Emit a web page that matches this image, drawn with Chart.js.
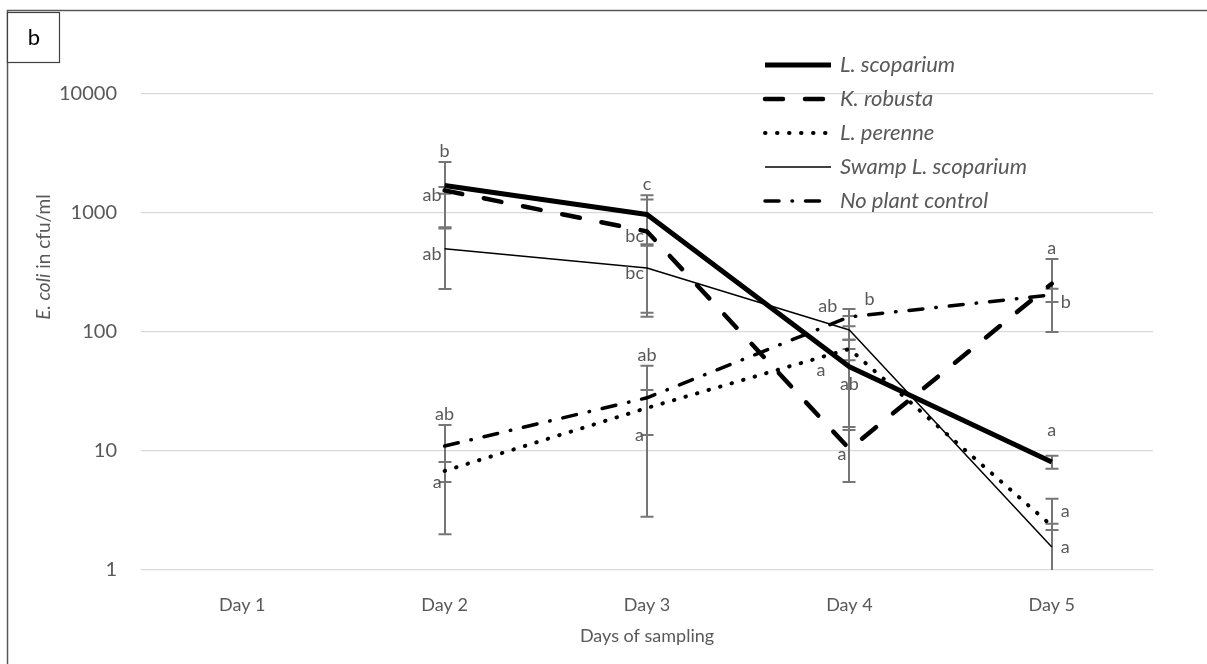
<!DOCTYPE html>
<html>
<head>
<meta charset="utf-8">
<script src="https://cdn.jsdelivr.net/npm/chart.js@4.4.1/dist/chart.umd.min.js"></script>
<style>
  html, body { margin: 0; padding: 0; background: #fff; }
  canvas { display: block; }
</style>
</head>
<body>
<canvas id="chart" width="1207" height="664"></canvas>
<script>
const days = ['Day 1', 'Day 2', 'Day 3', 'Day 4', 'Day 5'];
const yTicks = [1, 10, 100, 1000, 10000];
const seriesNames = ['L. scoparium', 'K. robusta', 'L. perenne', 'Swamp L. scoparium', 'No plant control'];

// mean counts (cfu/ml) with upper / lower error and significance letters
const scoparium = [null, 1700, 970, 51, 8.1];
const scopariumUp = [null, 980, 440, 35, 1.0];
const scopariumDown = [null, 960, 440, 36, 1.0];
const scopariumLetters = [null, 'b', 'c', 'a', 'a'];

const robusta = [null, 1550, 700, 10.4, 255];
const robustaUp = [null, 100, 600, 5.5, 155];
const robustaDown = [null, 100, 566, 4.9, 155];
const robustaLetters = [null, 'ab', 'bc', 'a', 'a'];

const perenne = [null, 6.8, 23, 72, 2.35];
const perenneUp = [null, 1.3, 9.5, 14, 0.1];
const perenneDown = [null, 1.3, 9.4, 14, 0.18];
const perenneLetters = [null, 'a', 'a', 'ab', 'a'];

const swamp = [null, 500, 345, 104, 1.56];
const swampUp = [null, 260, 200, 32, 2.4];
const swampDown = [null, 270, 200, 32, 1.0];
const swampLetters = [null, 'ab', 'bc', 'ab', 'a'];

const control = [null, 11, 28, 134, 205];
const controlUp = [null, 5.5, 24, 22, 26];
const controlDown = [null, 9, 25.2, 22, 26];
const controlLetters = [null, 'ab', 'ab', 'b', 'b'];

const FONT = 'Lato, "Open Sans", sans-serif';
const GREY = '#595959';

function series(label, data, up, down, letters, letterPos, style) {
  return Object.assign({
    label, data, errUp: up, errDown: down, letters, letterPos,
    borderColor: '#000', backgroundColor: '#000',
    pointRadius: 0, pointHoverRadius: 0, tension: 0, spanGaps: false,
    borderJoinStyle: 'round'
  }, style);
}

const datasets = [
  series(seriesNames[0], scoparium, scopariumUp, scopariumDown, scopariumLetters,
    [null, 'top', 'top', 'farLeft', 'high'],
    { borderWidth: 5, borderCapStyle: 'butt' }),
  series(seriesNames[1], robusta, robustaUp, robustaDown, robustaLetters,
    [null, 'left', 'left', 'left', 'top'],
    { borderWidth: 4.5, borderDash: [18, 22], borderCapStyle: 'round' }),
  series(seriesNames[2], perenne, perenneUp, perenneDown, perenneLetters,
    [null, 'lowLeft', 'lowLeft', 'bottom', 'upRight'],
    { borderWidth: 4, borderDash: [0.5, 11.5], borderCapStyle: 'round' }),
  series(seriesNames[3], swamp, swampUp, swampDown, swampLetters,
    [null, 'left', 'left', 'topLeft', 'right'],
    { borderWidth: 1.5, borderCapStyle: 'butt' }),
  series(seriesNames[4], control, controlUp, controlDown, controlLetters,
    [null, 'top', 'top', 'topRight', 'lowRight'],
    { borderWidth: 3.5, borderDash: [14, 13, 0.5, 13], borderCapStyle: 'round' })
];

// vertical error bars with caps, drawn underneath the lines
const errorBars = {
  id: 'errorBars',
  beforeDatasetsDraw(chart) {
    const { ctx, chartArea: area, scales: { x, y } } = chart;
    ctx.save();
    ctx.strokeStyle = '#767676';
    ctx.lineWidth = 2;
    ctx.lineCap = 'butt';
    chart.data.datasets.forEach(ds => {
      ds.data.forEach((v, i) => {
        if (v == null) return;
        const px = Math.round(x.getPixelForValue(i));
        const hi = v + ds.errUp[i];
        const lo = v - ds.errDown[i];
        const yHi = y.getPixelForValue(hi);
        const yLo = lo > 0 ? y.getPixelForValue(lo) : Infinity;
        ctx.beginPath();
        ctx.moveTo(px, Math.max(yHi, area.top));
        ctx.lineTo(px, Math.min(yLo, area.bottom));
        if (yHi >= area.top) { ctx.moveTo(px - 6.5, yHi); ctx.lineTo(px + 6.5, yHi); }
        if (yLo < area.bottom) { ctx.moveTo(px - 6.5, yLo); ctx.lineTo(px + 6.5, yLo); }
        ctx.stroke();
      });
    });
    ctx.restore();
  },
  afterDatasetsDraw(chart) {
    const { ctx, scales: { x, y } } = chart;
    ctx.save();
    ctx.fillStyle = GREY;
    ctx.font = '18px ' + FONT;
    ctx.textBaseline = 'middle';
    chart.data.datasets.forEach(ds => {
      ds.data.forEach((v, i) => {
        if (v == null || !ds.letters[i]) return;
        const px = x.getPixelForValue(i);
        const yv = y.getPixelForValue(v);
        const yHi = y.getPixelForValue(v + ds.errUp[i]);
        const yLo = y.getPixelForValue(Math.max(v - ds.errDown[i], 1));
        let tx = px, ty = yv;
        switch (ds.letterPos[i]) {
          case 'top': ctx.textAlign = 'center'; ty = yHi - 11; break;
          case 'high': ctx.textAlign = 'center'; ty = yHi - 26; break;
          case 'bottom': ctx.textAlign = 'center'; ty = yLo + 24; break;
          case 'left': ctx.textAlign = 'right'; tx = px - 3; ty = yv + 5; break;
          case 'farLeft': ctx.textAlign = 'right'; tx = px - 24; ty = yv + 3; break;
          case 'lowLeft': ctx.textAlign = 'right'; tx = px - 3; ty = yLo; break;
          case 'right': ctx.textAlign = 'left'; tx = px + 9; break;
          case 'upRight': ctx.textAlign = 'left'; tx = px + 9; ty = yv - 15; break;
          case 'lowRight': ctx.textAlign = 'left'; tx = px + 9; ty = yLo; break;
          case 'topLeft': ctx.textAlign = 'right'; tx = px - 12; ty = yHi - 10; break;
          case 'topRight': ctx.textAlign = 'left'; tx = px + 15; ty = yHi - 10; break;
        }
        ctx.fillText(ds.letters[i], tx, ty);
      });
    });
    ctx.restore();
  }
};

// legend inside the plot, axis titles, panel letter and frame
const decorations = {
  id: 'decorations',
  afterDraw(chart) {
    const { ctx, chartArea: area } = chart;
    ctx.save();

    chart.data.datasets.forEach((ds, i) => {
      const ly = 65 + i * 34;
      ctx.strokeStyle = '#000';
      ctx.lineWidth = ds.borderWidth;
      ctx.lineCap = ds.borderCapStyle;
      ctx.setLineDash(ds.borderDash || []);
      ctx.beginPath();
      ctx.moveTo(765, ly);
      ctx.lineTo(831, ly);
      ctx.stroke();
      ctx.setLineDash([]);
      ctx.fillStyle = GREY;
      ctx.font = 'italic 22px ' + FONT;
      ctx.textAlign = 'left';
      ctx.textBaseline = 'middle';
      ctx.fillText(ds.label, 840, ly);
    });

    // x axis title
    ctx.fillStyle = GREY;
    ctx.font = '18px ' + FONT;
    ctx.textAlign = 'center';
    ctx.textBaseline = 'middle';
    ctx.fillText('Days of sampling', (area.left + area.right) / 2, 636);

    // y axis title with the italic species name
    ctx.save();
    ctx.translate(44, 257);
    ctx.rotate(-Math.PI / 2);
    ctx.textAlign = 'left';
    ctx.font = 'italic 19px ' + FONT;
    const part1 = 'E. coli';
    const w1 = ctx.measureText(part1).width;
    ctx.font = '19px ' + FONT;
    const part2 = ' in cfu/ml';
    const w2 = ctx.measureText(part2).width;
    const start = -(w1 + w2) / 2;
    ctx.font = 'italic 19px ' + FONT;
    ctx.fillText(part1, start, 0);
    ctx.font = '19px ' + FONT;
    ctx.fillText(part2, start + w1, 0);
    ctx.restore();

    // frame lines
    ctx.strokeStyle = '#595959';
    ctx.lineWidth = 1.5;
    ctx.beginPath();
    ctx.moveTo(7.5, 664);
    ctx.lineTo(7.5, 10.5);
    ctx.lineTo(1207, 10.5);
    ctx.stroke();

    // panel letter box
    ctx.fillStyle = '#fff';
    ctx.fillRect(7.5, 12.5, 52, 50);
    ctx.strokeStyle = '#404040';
    ctx.lineWidth = 1.2;
    ctx.strokeRect(7.5, 12.5, 52, 50);
    ctx.fillStyle = '#000';
    ctx.font = '22px ' + FONT;
    ctx.textAlign = 'center';
    ctx.fillText('b', 34, 38);

    ctx.restore();
  }
};

new Chart(document.getElementById('chart'), {
  type: 'line',
  data: { labels: days, datasets },
  plugins: [errorBars, decorations],
  options: {
    responsive: false,
    animation: false,
    layout: { padding: { top: 94, right: 54, left: 0, bottom: 0 } },
    plugins: {
      legend: { display: false },
      tooltip: { enabled: false }
    },
    scales: {
      x: {
        type: 'category',
        offset: true,
        grid: { display: false, drawTicks: false },
        border: { display: false },
        ticks: { color: GREY, font: { family: FONT, size: 18 }, padding: 24, maxRotation: 0 },
        afterFit(scale) { scale.height = 94; }
      },
      y: {
        type: 'logarithmic',
        min: 1,
        max: 10000,
        grid: { color: '#d9d9d9', lineWidth: 1.2, drawTicks: false },
        border: { display: false },
        ticks: {
          color: GREY,
          font: { family: FONT, size: 20 },
          padding: 24,
          callback: v => String(v)
        },
        afterBuildTicks(scale) { scale.ticks = yTicks.map(value => ({ value })); },
        afterFit(scale) { scale.width = 141; }
      }
    }
  }
});
</script>
</body>
</html>
